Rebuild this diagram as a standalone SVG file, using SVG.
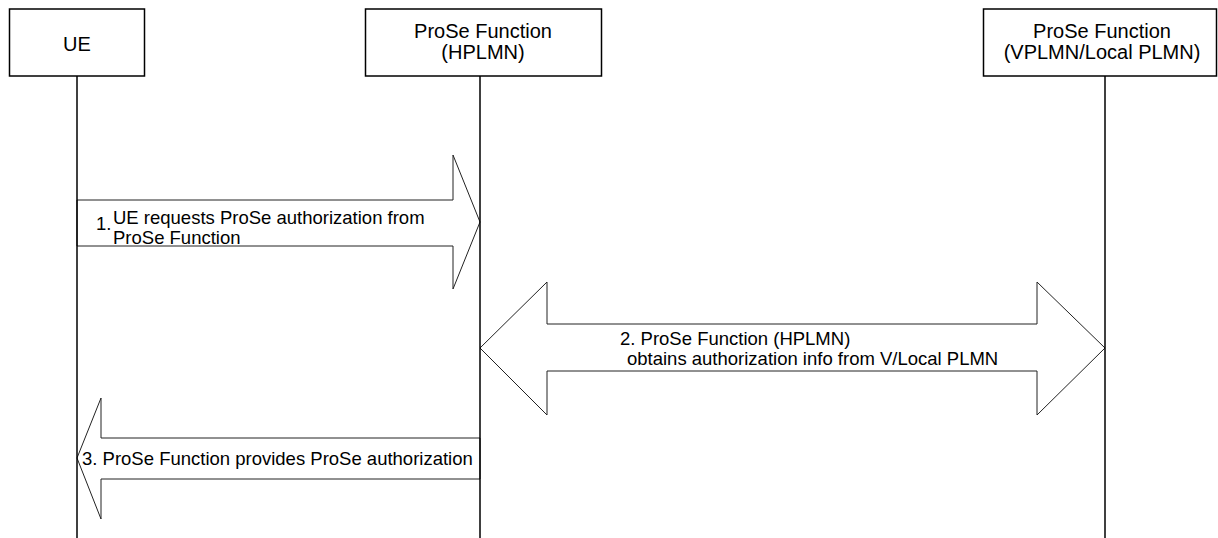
<svg xmlns="http://www.w3.org/2000/svg" width="1218" height="538" viewBox="0 0 1218 538">
<style>
.box{fill:#fff;stroke:#000;stroke-width:1.5}
.life{stroke:#000;stroke-width:1.5}
.arrow{fill:none;stroke:#222;stroke-width:1}
.hdr{font-family:"Liberation Sans",Arial,sans-serif;font-size:20px;fill:#000;text-anchor:middle}
.msg{font-family:"Liberation Sans",Arial,sans-serif;font-size:18.5px;fill:#000}
</style>
<rect width="1218" height="538" fill="#fff"/>
<g id="connectors">
<g id="msg1">
<polygon class="arrow" points="77,200 453,200 453,155 480,222 453,289 453,246 77,246"/>
<text class="msg" x="96" y="230">1.</text>
<text class="msg" x="113" y="224">UE requests ProSe authorization from</text>
<text class="msg" x="113" y="244">ProSe Function</text>
</g>
<g id="msg2">
<polygon class="arrow" points="480,348 547,282 547,324 1037,324 1037,282 1105,348 1037,415 1037,371 547,371 547,415"/>
<text class="msg" x="620" y="345">2. ProSe Function (HPLMN)</text>
<text class="msg" x="627" y="365">obtains authorization info from V/Local PLMN</text>
</g>
<g id="msg3">
<polygon class="arrow" points="480,438 101,438 101,398 77,458 101,519 101,479 480,479"/>
<text class="msg" x="82" y="465">3. ProSe Function provides ProSe authorization</text>
</g>
</g>
<g id="ue">
<line class="life" x1="77" y1="76" x2="77" y2="538"/>
<rect class="box" x="9.5" y="9" width="135" height="67"/>
<text class="hdr" x="77" y="51" font-size="23">UE</text>
</g>
<g id="prose-hplmn">
<line class="life" x1="480" y1="76" x2="480" y2="538"/>
<rect class="box" x="365.5" y="9" width="236" height="67"/>
<text class="hdr" x="483" y="38">ProSe Function</text>
<text class="hdr" x="483" y="59">(HPLMN)</text>
</g>
<g id="prose-vplmn">
<line class="life" x1="1105" y1="76" x2="1105" y2="538"/>
<rect class="box" x="983.5" y="9" width="233" height="67"/>
<text class="hdr" x="1102" y="38">ProSe Function</text>
<text class="hdr" x="1102" y="59">(VPLMN/Local PLMN)</text>
</g>
</svg>
